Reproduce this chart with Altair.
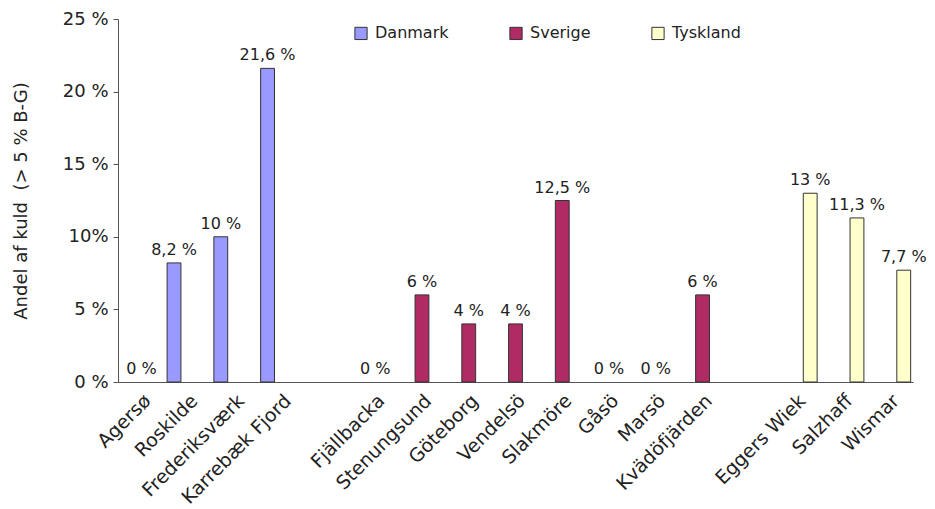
import altair as alt
import pandas as pd

sites = ["Agersø", "Roskilde", "Frederiksværk", "Karrebæk Fjord", " ",
         "Fjällbacka", "Stenungsund", "Göteborg", "Vendelsö", "Slakmöre",
         "Gåsö", "Marsö", "Kvädöfjärden", "  ",
         "Eggers Wiek", "Salzhaff", "Wismar"]
countries = ["Danmark", "Danmark", "Danmark", "Danmark", None,
             "Sverige", "Sverige", "Sverige", "Sverige", "Sverige",
             "Sverige", "Sverige", "Sverige", None,
             "Tyskland", "Tyskland", "Tyskland"]
values = [0, 8.2, 10, 21.6, None,
          0, 6, 4, 4, 12.5, 0, 0, 6, None,
          13, 11.3, 7.7]
labels = ["0 %", "8,2 %", "10 %", "21,6 %", None,
          "0 %", "6 %", "4 %", "4 %", "12,5 %", "0 %", "0 %", "6 %", None,
          "13 %", "11,3 %", "7,7 %"]

legend_order = ["Danmark", "Sverige", "Tyskland"]
colors = ["#9999FF", "#B02A63", "#FFFFCC"]

rows = [dict(site=s, country=c, value=v, label=l)
        for s, c, v, l in zip(sites, countries, values, labels) if c is not None]
df = pd.DataFrame(rows)

FONT = "DejaVu Sans"

x = alt.X("site:N", sort=sites,
          scale=alt.Scale(domain=sites, paddingInner=0.1, paddingOuter=0.05),
          axis=alt.Axis(title=None, labelAngle=-45, labelAlign="right",
                        labelBaseline="top", ticks=False, labelFontSize=19,
                        labelPadding=9, labelColor="#222222",
                        domainColor="#555555", labelFont=FONT))
xoff = alt.XOffset("country:N", scale=alt.Scale(domain=legend_order,
                                                paddingInner=0.02, paddingOuter=0))
y = alt.Y("value:Q", scale=alt.Scale(domain=[0, 25], nice=False),
          axis=alt.Axis(title="Andel af kuld\u00a0\u00a0(> 5 % B-G)",
                        values=[0, 5, 10, 15, 20, 25],
                        labelExpr="datum.value == 10 ? '10%' : datum.value + ' %'",
                        grid=False, tickSize=5, tickColor="#555555",
                        domainColor="#555555", labelFontSize=18,
                        labelColor="#222222", titleFontSize=18,
                        titleFontWeight="normal", titleColor="#222222",
                        titlePadding=32, labelPadding=5,
                        labelFont=FONT, titleFont=FONT))

bars = alt.Chart(df).transform_filter("datum.value > 0").mark_bar(
    stroke="#333333", strokeWidth=1).encode(
    x=x, xOffset=xoff, y=y,
    color=alt.Color("country:N", scale=alt.Scale(domain=legend_order, range=colors),
                    legend=alt.Legend(title=None, orient="none", direction="horizontal",
                                      legendX=235, legendY=6, columnPadding=58,
                                      symbolType="square", symbolSize=150,
                                      symbolStrokeColor="#333333", symbolStrokeWidth=1,
                                      labelFontSize=16, labelFont=FONT,
                                      labelColor="#222222", labelOffset=6))
)

text_nonzero = alt.Chart(df).transform_filter("datum.value > 0").mark_text(
    baseline="bottom", dy=-5, fontSize=16, font=FONT, color="#222222"
).encode(x=alt.X("site:N", sort=sites), xOffset=xoff, y=y, text="label:N")

text_zero = alt.Chart(df).transform_filter("datum.value == 0").mark_text(
    baseline="bottom", dy=-5, fontSize=16, font=FONT, color="#222222"
).encode(x=alt.X("site:N", sort=sites), y=y, text="label:N")

chart = alt.layer(bars, text_nonzero, text_zero).properties(
    width=795, height=363, autosize=alt.AutoSizeParams(type="none"),
    padding={"left": 110, "top": 11, "right": 14, "bottom": 130}
).configure(background="white").configure_view(stroke=None)

chart.save("out.html", embed_options={"renderer": "svg", "actions": False})
